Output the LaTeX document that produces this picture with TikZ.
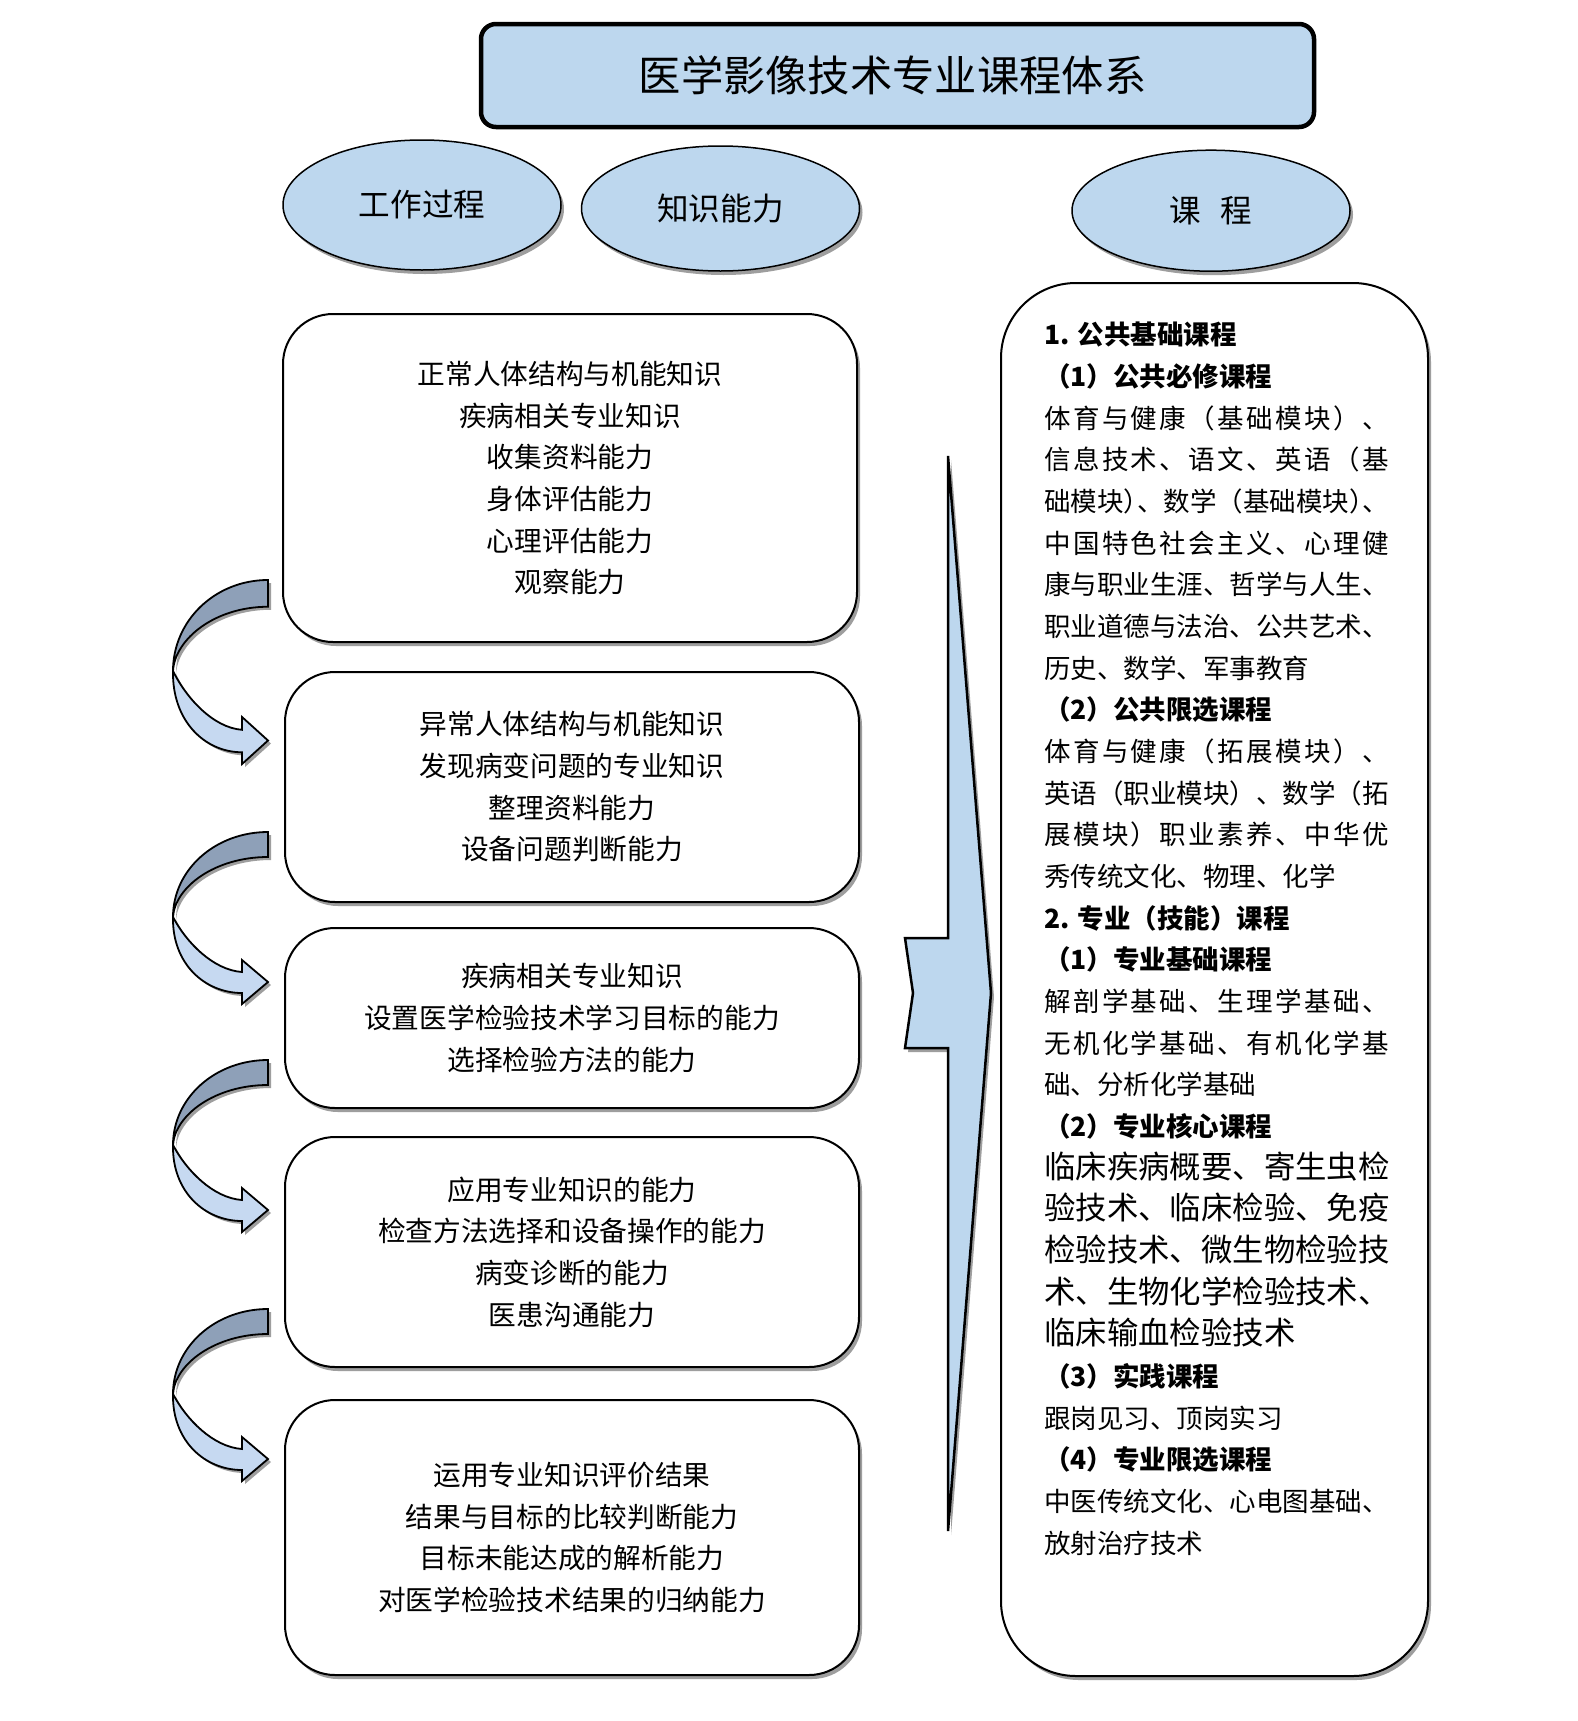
\documentclass[tikz,border=0pt]{standalone}
\usepackage{fontspec}
\setmainfont{Noto Sans CJK SC}
\usetikzlibrary{shapes.geometric,shadows}
\definecolor{boxblue}{RGB}{189,215,238}
\definecolor{arrdark}{RGB}{142,160,184}
\definecolor{arrlight}{RGB}{198,217,241}
\definecolor{shadowgray}{RGB}{158,158,158}

\newdimen\jw \jw=344.6pt
\def\jspEnd{\relax jspEnd}
\def\jspA#1{\ifx#1\jspEnd\else#1\hfil\expandafter\jspA\fi}
\newcommand\jline[1]{\hbox to \jw{\jspA#1\jspEnd\unskip}}
\newcommand\hR{\makebox[0.5em][l]{）}}

\newcommand\curvarrow[2]{%
  \begin{scope}[shift={(268,#1)}, yscale=#2]
    \draw[carrow, fill=arrlight] (-95,85) .. controls (-96,132) and (-63,161) .. (-26,161)
      -- (-26,172) -- (0,150) -- (-26,128) -- (-26,140)
      .. controls (-55,138) and (-82,110) .. (-95,85) -- cycle;
    \draw[carrow, fill=arrdark] (0,0) .. controls (-53,0) and (-95,38) .. (-95,85)
      .. controls (-93,55) and (-53,25) .. (0,25) -- cycle;
  \end{scope}}

\begin{document}
\begin{tikzpicture}[x=1pt,y=-1pt,
  shadowed/.style={drop shadow={shadow xshift=3pt, shadow yshift=-4pt, fill=shadowgray, opacity=1}},
  titlebox/.style={draw, line width=4.5pt, rounded corners=15pt, fill=boxblue,
    font=\fontsize{42.3}{50}\selectfont},
  oval/.style={ellipse, draw, line width=1.5pt, fill=boxblue, shadowed,
    font=\fontsize{31.6}{38}\selectfont},
  infobox/.style={draw, line width=2pt, rounded corners=50pt, fill=white, shadowed,
    align=center, font=\fontsize{27.7}{41.67}\selectfont},
  coursebox/.style={draw, line width=2pt, rounded corners=75pt, fill=white, shadowed},
  bigarrow/.style={draw, line width=2.5pt, fill=boxblue, line join=miter, shadowed},
  carrow/.style={draw, line width=1.8pt, line join=miter,
    drop shadow={shadow xshift=3pt, shadow yshift=-3pt, fill=shadowgray, opacity=1}}
]
\useasboundingbox (0,0) rectangle (1578,1721);
\fill[white] (0,0) rectangle (1578,1721);

% title
\node[titlebox, minimum width=833pt, minimum height=103pt] (title) at (897.5,75.5)
  {\hspace{-10pt}医学影像技术专业课程体系};

% ovals
\node[oval, minimum width=278pt, minimum height=130pt] (work) at (422,205) {工作过程};
\node[oval, minimum width=278pt, minimum height=125pt] (know) at (720.5,208.5) {知识能力};
\node[oval, minimum width=278pt, minimum height=121pt] (course) at (1211,210.7) {课\hspace{0.6em}程};

% left boxes
\node[infobox, minimum width=574pt, minimum height=328pt] (b1) at (570,478)
  {正常人体结构与机能知识\\疾病相关专业知识\\收集资料能力\\身体评估能力\\心理评估能力\\观察能力};
\node[infobox, minimum width=574pt, minimum height=230pt] (b2) at (572,787)
  {异常人体结构与机能知识\\发现病变问题的专业知识\\整理资料能力\\设备问题判断能力};
\node[infobox, minimum width=574pt, minimum height=180pt] (b3) at (572,1018)
  {疾病相关专业知识\\设置医学检验技术学习目标的能力\\选择检验方法的能力};
\node[infobox, minimum width=574pt, minimum height=230pt] (b4) at (572,1252)
  {应用专业知识的能力\\检查方法选择和设备操作的能力\\病变诊断的能力\\医患沟通能力};
\node[infobox, minimum width=574pt, minimum height=275pt] (b5) at (572,1537.5)
  {运用专业知识评价结果\\结果与目标的比较判断能力\\目标未能达成的解析能力\\对医学检验技术结果的归纳能力};

% curved arrows between boxes
\curvarrow{580}{1.07}
\curvarrow{832}{1}
\curvarrow{1060}{1}
\curvarrow{1309}{1}

% big arrow
\draw[bigarrow] (948,456) -- (991,993) -- (948,1531) -- (948,1048) -- (905,1048)
  -- (913,993) -- (905,938) -- (948,938) -- cycle;

% course box
\node[coursebox, minimum width=427pt, minimum height=1393pt] (cbox) at (1214.5,979.5) {};
\node[anchor=base west, inner sep=0pt] (courses) at (1044,344.7) {%
\begin{minipage}[t]{\jw}
\fontsize{26.5}{41.67}\selectfont
{\bfseries 1. 公共基础课程}\par
{\bfseries （1）公共必修课程}\par
\jline{体育与健康（基础模块）、}\par
\jline{信息技术、语文、英语（基}\par
\jline{础模块\hR、数学（基础模块\hR、}\par
\jline{中国特色社会主义、心理健}\par
\jline{康与职业生涯、哲学与人生、}\par
\jline{职业道德与法治、公共艺术、}\par
历史、数学、军事教育\par
{\bfseries （2）公共限选课程}\par
\jline{体育与健康（拓展模块）、}\par
\jline{英语（职业模块）、数学（拓}\par
\jline{展模块）职业素养、中华优}\par
秀传统文化、物理、化学\par
{\bfseries 2. 专业（技能）课程}\par
{\bfseries （1）专业基础课程}\par
\jline{解剖学基础、生理学基础、}\par
\jline{无机化学基础、有机化学基}\par
础、分析化学基础\par
{\bfseries （2）专业核心课程}\par
{\fontsize{31.4}{41.67}\selectfont
\jline{临床疾病概要、寄生虫检}\par
\jline{验技术、临床检验、免疫}\par
\jline{检验技术、微生物检验技}\par
\jline{术、生物化学检验技术、}\par
临床输血检验技术\par}
{\bfseries （3）实践课程}\par
跟岗见习、顶岗实习\par
{\bfseries （4）专业限选课程}\par
\jline{中医传统文化、心电图基础、}\par
放射治疗技术\par
\end{minipage}};
\end{tikzpicture}
\end{document}
